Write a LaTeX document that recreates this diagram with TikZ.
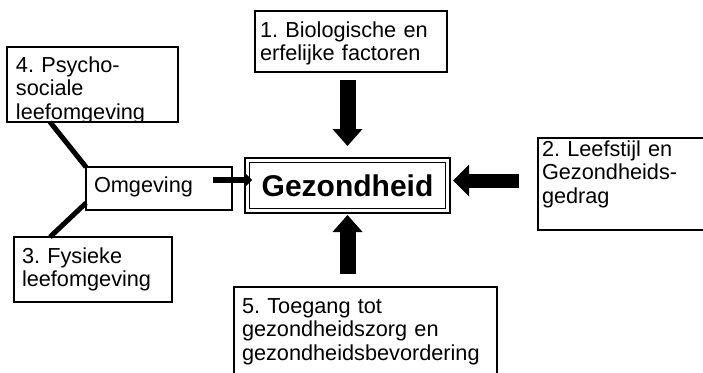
\documentclass[tikz,border=0pt]{standalone}
\usepackage{fontspec}
\setmainfont{Liberation Sans}
\usetikzlibrary{arrows.meta,calc}
\frenchspacing
\begin{document}
\begin{tikzpicture}[x=1pt,y=-1pt,
  box/.style={draw, line width=1.5pt, anchor=north west, align=left, inner ysep=0pt, outer sep=0pt,
    font=\fontsize{21.7}{23.5}\selectfont},
  bigarrow/.style={line width=16pt, -{Triangle[length=17pt,width=30pt,line width=0pt]}},
  sidearrow/.style={line width=14pt, -{Triangle[length=16pt,width=32pt,line width=0pt]}},
  smallarrow/.style={line width=6pt, -{Triangle[length=7pt,width=14pt,line width=0pt]}},
  thickline/.style={line width=5pt}
]
\path[use as bounding box, clip] (0,0) rectangle (703,372);

\node[box, inner xsep=5pt, text width=182pt, text height=26pt, text depth=35pt] (b1) at (255,11)
  {1. Biologische en\\erfelijke factoren};
\node[box, inner xsep=4pt, text width=172pt, text height=18pt, text depth=74pt] (b2) at (538,138)
  {2. Leefstijl en\\Gezondheids-\\gedrag};
\node[box, inner xsep=8pt, text width=142pt, text height=26pt, text depth=39pt] (b3) at (14,237)
  {3. Fysieke\\leefomgeving};
\begin{scope}
  \clip (0,0) rectangle (703,122.75);
  \node[box, inner xsep=9pt, text width=153pt, text height=25pt, text depth=50pt] (b4) at (7,47)
    {4. Psycho-\\sociale\\leefomgeving};
\end{scope}
\node[box, inner xsep=8pt, text width=247pt, text height=26pt, text depth=100pt] (b5) at (234,287)
  {5. Toegang tot\\gezondheidszorg en\\gezondheidsbevordering};
\node[box, inner xsep=8pt, text width=130pt, text height=25pt, text depth=18pt] (omg) at (86,167)
  {Omgeving};

\node[draw, double, double distance=2.75pt, line width=1.75pt, minimum width=200.5pt,
  minimum height=50.5pt, inner sep=0pt, outer sep=0pt,
  font=\bfseries\fontsize{30}{36}\selectfont] (gez) at (347.5,185.5) {Gezondheid};

\draw[bigarrow] ($(gez.north |- b1.south)+(0,8)$) -- ($(gez.north)+(0,-14.25)$);
\draw[bigarrow] ($(gez.south |- b5.north)+(0,-13)$) -- ($(gez.south)+(0,4.25)$);
\coordinate (ltip) at ($(gez.east)+(5.25,-5)$);
\draw[sidearrow] ([xshift=-19pt]b2.west |- ltip) -- (ltip);
\coordinate (stip) at ($(gez.west)+(4.75,-5.5)$);
\draw[smallarrow] ([xshift=-19pt]omg.east |- stip) -- (stip);

\draw[thickline] ([xshift=43pt]b4.south west) -- (omg.north west);
\draw[thickline] ([yshift=7pt]omg.south west) -- ([xshift=36pt]b3.north west);
\end{tikzpicture}
\end{document}
